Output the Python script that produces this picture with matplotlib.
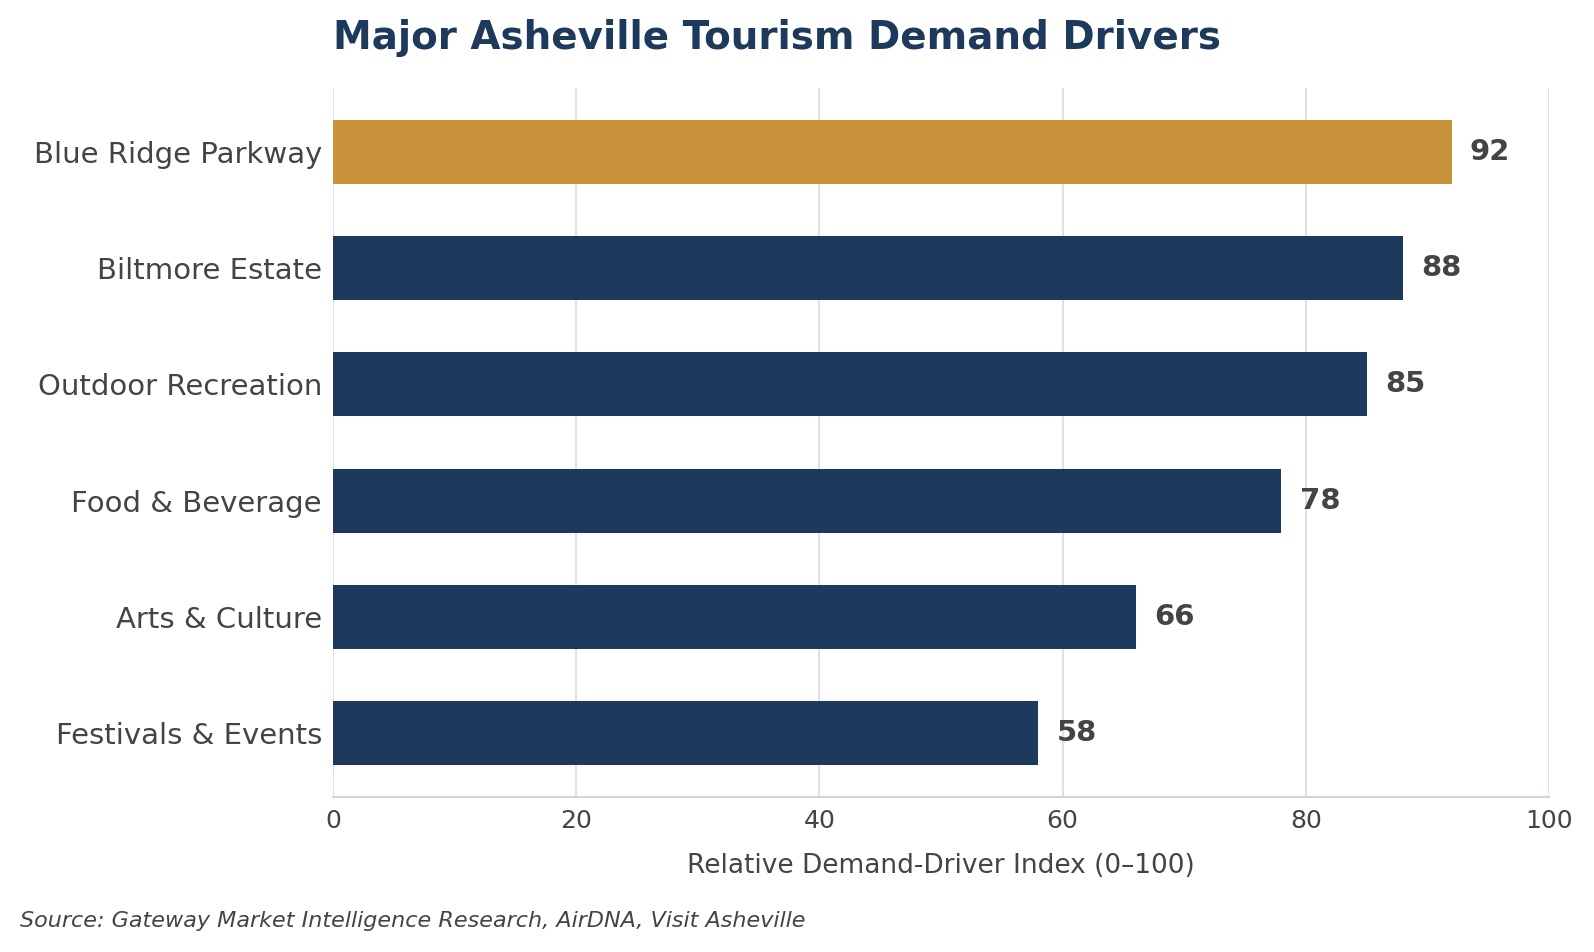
import matplotlib
matplotlib.use('Agg')
import matplotlib.pyplot as plt

categories = ['Blue Ridge Parkway', 'Biltmore Estate', 'Outdoor Recreation',
              'Food & Beverage', 'Arts & Culture', 'Festivals & Events']
values = [92, 88, 85, 78, 66, 58]
highlight = 'Blue Ridge Parkway'

navy = '#1d3a5c'
gold = '#c8923a'
text_col = '#444444'

fig = plt.figure(figsize=(15.94, 9.52), dpi=100)
ax = fig.add_axes([333/1594, 1 - 797/952, (1549-333)/1594, (797-88)/952])

ypos = list(range(len(categories)))[::-1]
colors = [gold if c == highlight else navy for c in categories]
ax.barh(ypos, values, height=0.55, color=colors, zorder=3)

for y, v in zip(ypos, values):
    ax.text(v + 1.5, y, str(v), va='center', ha='left', fontsize=21,
            fontweight='bold', color=text_col)

ax.set_yticks(ypos)
ax.set_yticklabels(categories, fontsize=21, color=text_col)
ax.set_xlim(0, 100)
ax.set_xticks([0, 20, 40, 60, 80, 100])
ax.tick_params(axis='x', labelsize=18, colors=text_col, length=0, pad=9)
ax.tick_params(axis='y', length=0, pad=8)
ax.set_xlabel('Relative Demand-Driver Index (0\u2013100)', fontsize=19,
              color=text_col, labelpad=14)

ax.grid(axis='x', color='#d9dce3', linewidth=1.2, zorder=0)
ax.grid(axis='y', visible=False)
for s in ['top', 'right', 'left']:
    ax.spines[s].set_visible(False)
ax.spines['bottom'].set_color('#cfd5df')
ax.spines['bottom'].set_linewidth(1.5)

fig.text(333/1594, 1 - 38/952, 'Major Asheville Tourism Demand Drivers',
         fontsize=28, fontweight='bold', color=navy, ha='left', va='center')
fig.text(20/1594, 1 - 921/952,
         'Source: Gateway Market Intelligence Research, AirDNA, Visit Asheville',
         fontsize=16, style='italic', color=text_col, ha='left', va='center')

fig.savefig('out.png', dpi=100)
